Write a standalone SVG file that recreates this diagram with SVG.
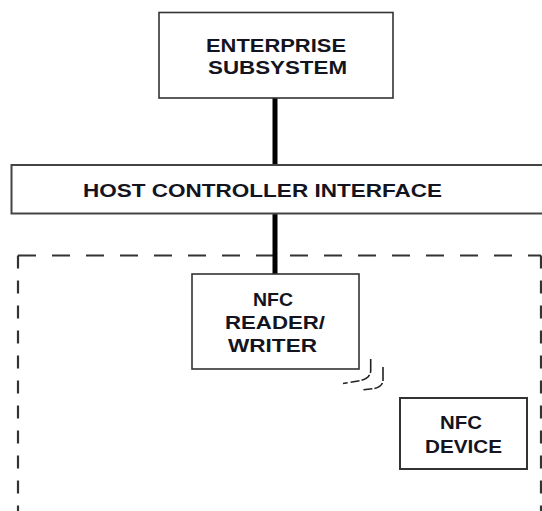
<svg xmlns="http://www.w3.org/2000/svg" width="542" height="511" viewBox="0 0 542 511">
  <style>
    .box { fill: #fff; stroke: #333; stroke-width: 1.6; }
    .lbl { font-family: "Liberation Sans", Arial, sans-serif; font-weight: bold; font-size: 18px; fill: #141420; }
    .link { stroke: #000; stroke-width: 5; fill: none; }
    .dh { stroke: #333; stroke-width: 2.2; stroke-dasharray: 18 16; fill: none; }
    .dv { stroke: #333; stroke-width: 2.2; stroke-dasharray: 13 12; fill: none; }
    .wave { stroke: #222; stroke-width: 1.6; fill: none; stroke-dasharray: 14 2 10 2 9 3 20; }
  </style>
  <rect width="542" height="511" fill="#fff"/>

  <!-- dashed system boundary, open at the bottom -->
  <g id="boundary">
    <path class="dh" d="M18,255.5 H541"/>
    <path class="dv" d="M18,255.5 V511"/>
    <path class="dv" d="M541,255.5 V511"/>
  </g>

  <!-- connectors: bus links and the radio field of the reader -->
  <g id="connectors">
    <line class="link" x1="275" y1="98" x2="275" y2="165"/>
    <line class="link" x1="275" y1="213" x2="275" y2="274"/>
    <path class="wave" d="M370.7,359 V371 Q370,378 361,380.5 L343,383.5"/>
    <path class="wave" d="M383,367 V381 Q382,387 374,388.5 L361.5,390"/>
  </g>

  <g id="enterprise">
    <rect class="box" x="159" y="12.5" width="234" height="85.5"/>
    <text class="lbl" x="206" y="52" textLength="140" lengthAdjust="spacingAndGlyphs">ENTERPRISE</text>
    <text class="lbl" x="208" y="74" textLength="139" lengthAdjust="spacingAndGlyphs">SUBSYSTEM</text>
  </g>

  <g id="hci">
    <rect class="box" x="11.5" y="165" width="540" height="48.5" style="stroke:#444;stroke-width:2"/>
    <text class="lbl" x="83" y="197" textLength="359" lengthAdjust="spacingAndGlyphs">HOST CONTROLLER INTERFACE</text>
  </g>

  <g id="reader">
    <rect class="box" x="192" y="274" width="167" height="95"/>
    <text class="lbl" x="253" y="306" textLength="40" lengthAdjust="spacingAndGlyphs">NFC</text>
    <text class="lbl" x="225" y="329" textLength="100" lengthAdjust="spacingAndGlyphs">READER/</text>
    <text class="lbl" x="228" y="352" textLength="89" lengthAdjust="spacingAndGlyphs">WRITER</text>
  </g>

  <g id="device">
    <rect class="box" x="400" y="398" width="127" height="71" style="stroke-width:2"/>
    <text class="lbl" x="440" y="429" textLength="42" lengthAdjust="spacingAndGlyphs">NFC</text>
    <text class="lbl" x="425" y="453" textLength="77" lengthAdjust="spacingAndGlyphs">DEVICE</text>
  </g>
</svg>
